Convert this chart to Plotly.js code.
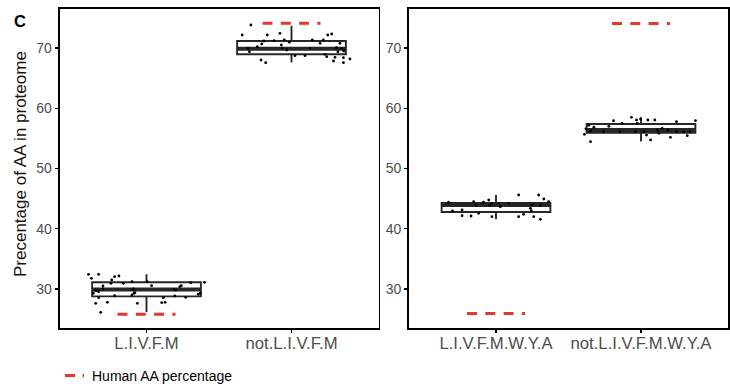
<!DOCTYPE html>
<html>
<head>
<meta charset="utf-8">
<script src="https://cdn.plot.ly/plotly-3.0.1.min.js"></script>
<style>html,body{margin:0;padding:0;background:#fff;}#chart{width:730px;height:387px;}</style>
</head>
<body>
<div id="chart"></div>
<script>
// ---- Data ----
const catsA = ['L.I.V.F.M', 'not.L.I.V.F.M'];
const catsB = ['L.I.V.F.M.W.Y.A', 'not.L.I.V.F.M.W.Y.A'];

const q1A  = [28.75, 68.97];
const medA = [29.90, 69.89];
const q3A  = [31.09, 71.18];
const loA  = [26.15, 67.60];
const hiA  = [32.42, 73.73];

const q1B  = [42.77, 55.95];
const medB = [43.94, 56.40];
const q3B  = [44.27, 57.39];
const loB  = [41.56, 54.50];
const hiB  = [45.60, 58.50];

const humanA = [25.80, 74.15];
const humanB = [25.90, 74.10];

// jitter offsets (category units) and values of individual points
const offA1 = [-0.40,-0.33,-0.38,-0.24,-0.22,-0.19,-0.245,-0.16,-0.10,0.005,0.035,0.24,0.305,0.40,-0.35,-0.33,-0.095,-0.086,-0.22,-0.33,0.20,0.195,0.27,0.37,-0.35,-0.27,-0.063,0.105,0.128,-0.316,-0.367,-0.30,-0.30,0.19,0.23,-0.09,-0.08,-0.10,0.116,0.357];
const valA1 = [32.42,32.42,31.76,31.48,32.02,32.14,30.93,30.93,31.19,31.19,30.53,30.53,31.03,31.09,29.70,29.54,29.93,29.27,28.87,28.54,29.81,28.82,28.60,29.27,27.60,27.77,27.60,27.70,27.77,26.11,29.27,29.98,30.48,29.93,30.36,29.98,29.37,28.99,28.54,29.10];

const offA2 = [-0.28,-0.34,-0.167,-0.08,0.25,0.277,-0.19,-0.12,-0.05,-0.015,0.143,0.22,-0.205,-0.07,0.197,0.334,-0.236,-0.30,-0.063,0.128,0.31,0.345,-0.29,-0.033,0.32,0.36,0.024,0.093,0.23,0.243,0.30,0.358,0.403,-0.21,-0.178,0.29,0.358];
const valA2 = [73.84,72.18,72.18,72.46,72.18,72.35,71.18,71.23,71.35,70.97,71.35,71.35,70.69,70.52,70.80,70.80,70.24,69.97,69.97,69.97,70.07,69.97,69.41,69.69,69.41,69.52,68.74,68.74,68.97,68.58,68.47,68.41,68.19,68.03,67.58,67.86,67.58];

const offB1 = [-0.327,-0.154,-0.086,-0.05,-0.028,-0.044,0.018,0.03,0.087,0.156,0.294,0.33,0.363,0.248,0.237,0.306,-0.234,-0.30,-0.12,-0.234,-0.172,-0.028,0.156,0.19,0.26,0.306,-0.138,0.243];
const valB1 = [44.39,44.49,44.39,44.77,44.22,43.82,44.22,43.65,44.22,45.60,45.60,44.93,44.49,43.94,43.39,43.82,43.11,42.94,42.56,42.16,42.11,42.00,42.00,42.39,42.00,41.56,43.82,42.99];

const offB2 = [-0.066,-0.031,-0.003,0.047,0.095,-0.19,-0.13,0.245,0.376,-0.222,-0.325,-0.36,-0.026,-0.348,-0.257,-0.146,-0.038,0.02,0.112,0.146,0.185,0.245,0.295,0.337,-0.39,0.123,0.203,0.319,0.066,-0.348,0.038,-0.38];
const valB2 = [58.50,58.06,58.22,58.06,58.06,57.94,57.51,57.78,57.94,57.01,56.85,57.18,57.51,56.23,56.11,56.11,56.11,56.11,56.40,56.68,56.40,56.11,56.11,56.11,55.68,55.85,55.18,55.45,54.74,54.45,55.56,56.60];

const legendName = 'Human AA percentage';

// ---- Build traces ----
const BOXW = 0.75, HW = 0.2;
const RED = '#E4392A', BOXC = '#262626';
const FONT = 'Liberation Sans, Arial, Helvetica, sans-serif';
const W = 730, H = 387;

function panel(q1, med, q3, lo, hi, human, pts, xa, ya) {
  const tr = [];
  tr.push({type:'box', x:[1,2], q1:q1, median:med, q3:q3, lowerfence:lo, upperfence:hi,
    width:BOXW, fillcolor:'white', line:{color:BOXC, width:1.9}, boxpoints:false,
    whiskerwidth:0, xaxis:xa, yaxis:ya, showlegend:false, hoverinfo:'skip'});
  // thick median
  const mx = [], my = [];
  med.forEach((m,i)=>{ mx.push(i+1-BOXW/2, i+1+BOXW/2, null); my.push(m, m, null); });
  tr.push({type:'scatter', mode:'lines', x:mx, y:my, line:{color:BOXC, width:4},
    xaxis:xa, yaxis:ya, showlegend:false, hoverinfo:'skip'});
  // points
  const px = [], py = [];
  pts.forEach((g,gi)=>{ g[0].forEach((o,k)=>{ px.push(gi+1+o); py.push(g[1][k]); }); });
  tr.push({type:'scatter', mode:'markers', x:px, y:py, marker:{color:'black', size:2.8},
    xaxis:xa, yaxis:ya, showlegend:false, hoverinfo:'skip'});
  // human reference dashes
  const hx = [], hy = [];
  human.forEach((h,i)=>{ hx.push(i+1-HW, i+1+HW, null); hy.push(h, h, null); });
  tr.push({type:'scatter', mode:'lines', x:hx, y:hy, name:legendName,
    line:{color:RED, width:3, dash:'10px,8.3px'},
    xaxis:xa, yaxis:ya, showlegend:false, hoverinfo:'skip'});
  return tr;
}

const traces = [].concat(
  panel(q1A, medA, q3A, loA, hiA, humanA, [[offA1,valA1],[offA2,valA2]], 'x', 'y'),
  panel(q1B, medB, q3B, loB, hiB, humanB, [[offB1,valB1],[offB2,valB2]], 'x2', 'y2')
);

function xax(domain, cats, anchor) {
  return {domain:domain, range:[0.4,2.6], tickmode:'array', tickvals:[1,2], ticktext:cats,
    showline:true, mirror:true, linecolor:'black', linewidth:1.8, ticks:'outside', ticklen:3,
    tickwidth:1.5, tickcolor:'black', showgrid:false, zeroline:false, anchor:anchor,
    ticklabelstandoff:-4,
    tickfont:{family:FONT, size:16.7, color:'#4d4d4d'}, fixedrange:true, automargin:false};
}
function yax(anchor) {
  return {domain:[59/H, 378/H], range:[23.5,76.5], tickmode:'array', tickvals:[30,40,50,60,70],
    showline:true, mirror:true, linecolor:'black', linewidth:1.8, ticks:'outside', ticklen:3,
    tickwidth:1.5, tickcolor:'black', showgrid:false, zeroline:false, anchor:anchor,
    tickfont:{family:FONT, size:14, color:'#4d4d4d'}, fixedrange:true, automargin:false};
}

const layout = {
  width:W, height:H, margin:{l:0, r:0, t:0, b:0},
  paper_bgcolor:'white', plot_bgcolor:'white',
  font:{family:FONT},
  showlegend:false,
  xaxis: xax([59.5/W, 378.5/W], catsA, 'y'),
  yaxis: yax('x'),
  xaxis2: xax([409/W, 728/W], catsB, 'y2'),
  yaxis2: yax('x2'),
  // legend key (swatch + label) at the bottom left
  shapes:[
    {type:'line', xref:'paper', yref:'paper', x0:65/W, x1:84.5/W, y0:1-375.5/H, y1:1-375.5/H,
     line:{color:RED, width:3, dash:'10px,7.5px,1.5px,50px'}}
  ],
  annotations:[
    {text:legendName, xref:'paper', yref:'paper', x:90/W, y:1-376/H, xanchor:'left', yanchor:'middle',
     showarrow:false, font:{family:FONT, size:14, color:'black'}},
    {text:'<b>C</b>', xref:'paper', yref:'paper', x:12/W, y:1-21/H, xanchor:'left', yanchor:'middle',
     showarrow:false, font:{family:FONT, size:16.5, color:'black'}},
    {text:'Precentage of AA in proteome', xref:'paper', yref:'paper', x:20/W, y:1-164/H,
     xanchor:'center', yanchor:'middle', textangle:-90, showarrow:false,
     font:{family:FONT, size:17, color:'#111'}}
  ]
};

Plotly.newPlot('chart', traces, layout, {displayModeBar:false, staticPlot:true});
</script>
</body>
</html>
